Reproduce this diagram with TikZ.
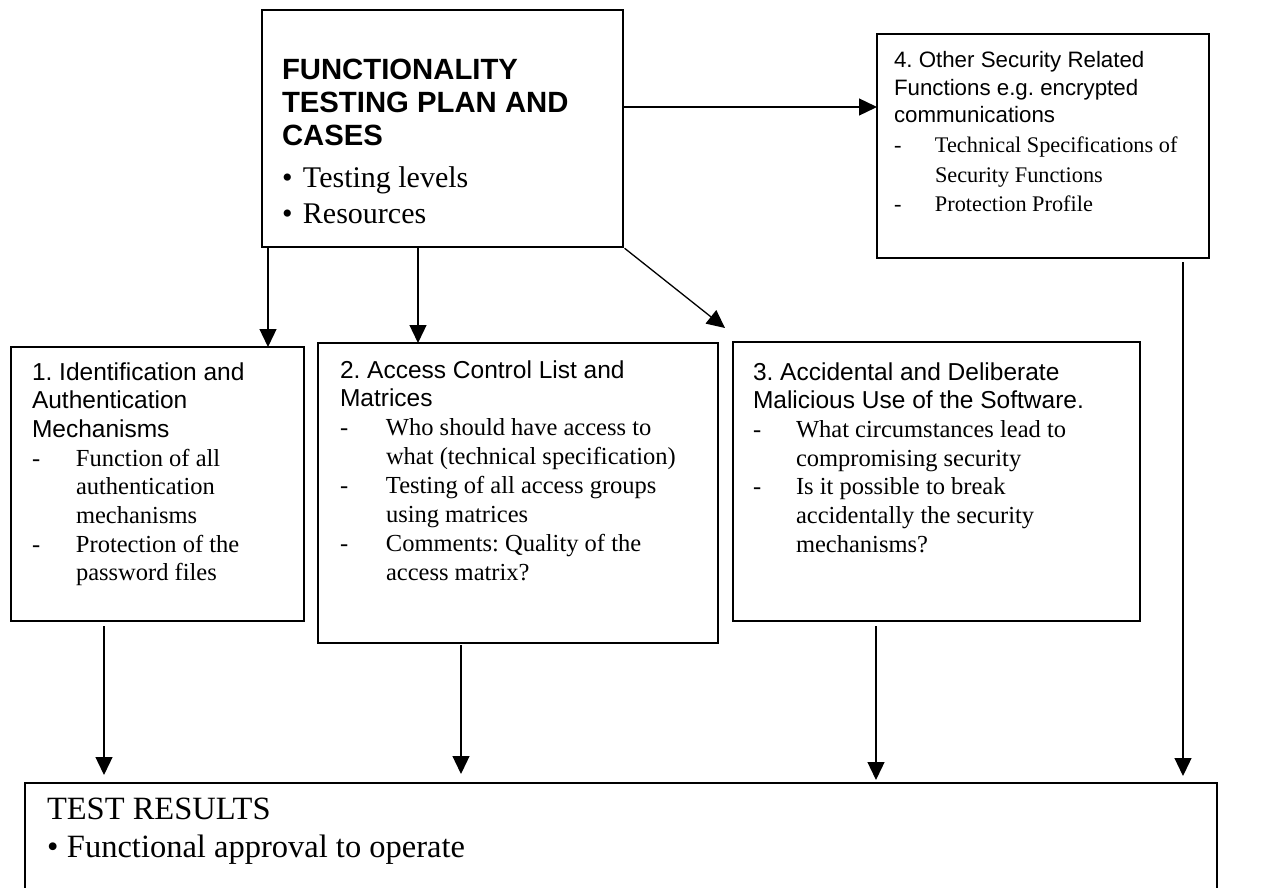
\documentclass[tikz,border=0pt]{standalone}
\usepackage{fontspec}
\setmainfont{Liberation Serif}
\setsansfont{Liberation Sans}
\usetikzlibrary{arrows.meta}
\frenchspacing

% a column of lines with a fixed distance between baselines;
% its baseline is the baseline of the first line
\newcommand\stackl[2]{\vtop{\baselineskip=#1pt\lineskiplimit=-100pt\lineskip=0pt\relax #2}}
\newcommand\hd[1]{\hbox{\sffamily #1}}
\newcommand\dashln[2][44pt]{\hbox{\rmfamily\makebox[#1][l]{-}#2}}
\newcommand\contln[2][44pt]{\hbox{\rmfamily\hspace*{#1}#2}}
\newcommand\bulln[2][21pt]{\hbox{\rmfamily\makebox[#1][l]{\textbullet}#2}}

\begin{document}
\begin{tikzpicture}[x=1pt,y=-1pt,
  box/.style={draw, line width=1.8pt, rectangle, inner sep=0pt, outer sep=0pt, anchor=north west},
  txt/.style={inner sep=0pt, outer sep=0pt, anchor=base west, font=\fontsize{24.5}{28.7}\selectfont},
  arr/.style={line width=1.3pt, -{Triangle[length=18pt,width=17pt]}}]
\useasboundingbox (0,0) rectangle (1288,888);

% boxes
\node[box, minimum width=361pt, minimum height=237pt] (main) at (262,10) {};
\node[box, minimum width=332pt, minimum height=224pt] (b4) at (877,34) {};
\node[box, minimum width=293pt, minimum height=274pt] (b1) at (11,347) {};
\node[box, minimum width=400pt, minimum height=300pt] (b2) at (318,343) {};
\node[box, minimum width=407pt, minimum height=279pt] (b3) at (733,342) {};
\node[box, minimum width=1192pt, minimum height=112pt] (res) at (25,783) {};

% texts
\node[txt, font=\sffamily\bfseries\fontsize{29.3}{33}\selectfont] (mhead) at (282,80)
  {\stackl{33}{\hbox{FUNCTIONALITY}\hbox{TESTING PLAN AND}\hbox{CASES}}};
\node[txt, font=\fontsize{30}{36}\selectfont] (mlist) at (282,187)
  {\stackl{36}{\bulln{Testing levels}\bulln{Resources}}};

\node[txt, font=\fontsize{22.3}{27.5}\selectfont] (t4h) at (894,68)
  {\stackl{27.5}{\hd{4. Other Security Related}\hd{Functions e.g. encrypted}\hd{communications}}};
\node[txt, font=\fontsize{22.3}{29.5}\selectfont] (t4) at (894,153)
  {\stackl{29.5}{\dashln[41pt]{Technical Specifications of}\contln[41pt]{Security Functions}%
   \dashln[41pt]{Protection Profile}}};

\node[txt] (t1) at (32,380)
  {\stackl{28.7}{\hd{1. Identification and}\hd{Authentication}\hd{Mechanisms}%
   \dashln{Function of all}\contln{authentication}\contln{mechanisms}%
   \dashln{Protection of the}\contln{password files}}};

\node[txt] (t2) at (340,378)
  {\stackl{28.9}{\hd{2. Access Control List and}\hd{Matrices}%
   \dashln[46pt]{Who should have access to}\contln[46pt]{what (technical specification)}%
   \dashln[46pt]{Testing of all access groups}\contln[46pt]{using matrices}%
   \dashln[46pt]{Comments: Quality of the}\contln[46pt]{access matrix?}}};

\node[txt] (t3) at (753,380)
  {\stackl{28.7}{\hd{3. Accidental and Deliberate}\hd{Malicious Use of the Software.}%
   \dashln[43pt]{What circumstances lead to}\contln[43pt]{compromising security}%
   \dashln[43pt]{Is it possible to break}\contln[43pt]{accidentally the security}%
   \contln[43pt]{mechanisms?}}};

\node[txt, font=\fontsize{32.5}{38}\selectfont] (tres) at (47,819)
  {\stackl{38}{\hbox{TEST RESULTS}\bulln[20pt]{Functional approval to operate}}};

% connectors from the plan box
\coordinate (m4) at ([yshift=-97pt]main.north east);
\draw[arr] (m4) -- (m4 -| b4.west);
\coordinate (m1) at ([xshift=6pt]main.south west);
\draw[arr] (m1) -- (m1 |- b1.north);
\coordinate (m2) at ([xshift=156pt]main.south west);
\draw[arr] (m2) -- (m2 |- b2.north);
\coordinate (m3) at (725,328);
\draw[arr, shorten <=2pt] (main.south east) -- (m3);

% connectors into the results box
\coordinate (d1) at ([xshift=93pt]b1.south west);
\draw[arr, shorten <=5pt, shorten >=8pt] (d1) -- (d1 |- res.north);
\coordinate (d2) at ([xshift=143pt]b2.south west);
\draw[arr, shorten <=2pt, shorten >=9pt] (d2) -- (d2 |- res.north);
\coordinate (d3) at ([xshift=143pt]b3.south west);
\draw[arr, shorten <=5pt, shorten >=3pt] (d3) -- (d3 |- res.north);
\coordinate (d4) at ([xshift=306pt]b4.south west);
\draw[arr, shorten <=4pt, shorten >=7pt] (d4) -- (d4 |- res.north);
\end{tikzpicture}
\end{document}
